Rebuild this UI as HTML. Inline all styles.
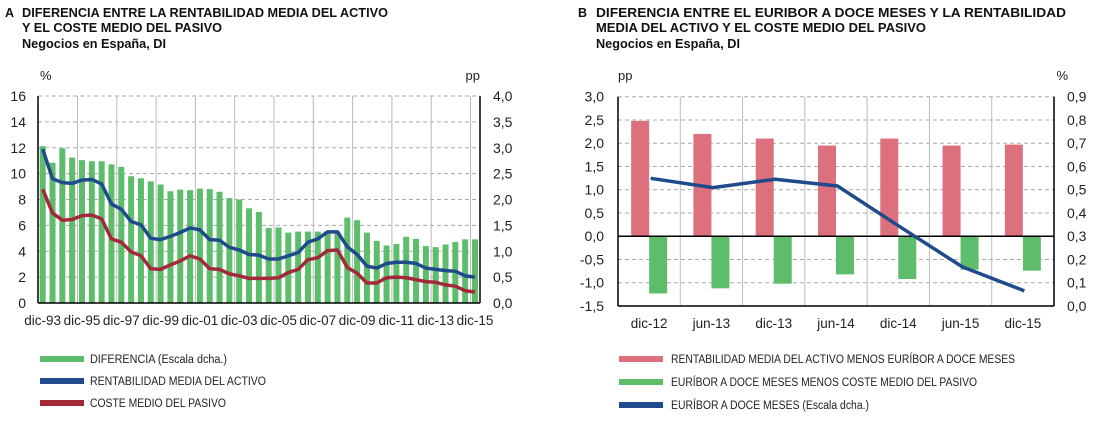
<!DOCTYPE html>
<html><head><meta charset="utf-8">
<style>
html,body{margin:0;padding:0;background:#fff;}
svg{display:block;font-family:"Liberation Sans",sans-serif;}
</style></head>
<body>
<svg id="svg" width="1106" height="422" viewBox="0 0 1106 422" xmlns="http://www.w3.org/2000/svg">
<g font-size="12.5" font-weight="bold" fill="#111">
<text x="5" y="17">A</text>
<text x="22" y="17" textLength="366" lengthAdjust="spacingAndGlyphs">DIFERENCIA ENTRE LA RENTABILIDAD MEDIA DEL ACTIVO</text>
<text x="22" y="32" textLength="200" lengthAdjust="spacingAndGlyphs">Y EL COSTE MEDIO DEL PASIVO</text>
<text x="22" y="48" textLength="144" lengthAdjust="spacingAndGlyphs">Negocios en España, DI</text>
</g>
<g font-size="12.5" font-weight="bold" fill="#111">
<text x="578" y="17">B</text>
<text x="596" y="17" textLength="470" lengthAdjust="spacingAndGlyphs">DIFERENCIA ENTRE EL EURIBOR A DOCE MESES Y LA RENTABILIDAD</text>
<text x="596" y="32" textLength="330" lengthAdjust="spacingAndGlyphs">MEDIA DEL ACTIVO Y EL COSTE MEDIO DEL PASIVO</text>
<text x="596" y="48" textLength="144" lengthAdjust="spacingAndGlyphs">Negocios en España, DI</text>
</g>
<g id="chartA"></g>
<g id="chartB"></g>
<g font-size="11.5" fill="#222">
<g><rect x="40" y="356" width="44" height="6" fill="#5dbd6a"/><text x="90" y="363" textLength="137" lengthAdjust="spacingAndGlyphs">DIFERENCIA (Escala dcha.)</text></g>
<g><rect x="40" y="378" width="44" height="6" fill="#1f4a8c"/><text x="90" y="385" textLength="176" lengthAdjust="spacingAndGlyphs">RENTABILIDAD MEDIA DEL ACTIVO</text></g>
<g><rect x="40" y="400" width="44" height="6" fill="#a3283a"/><text x="90" y="407" textLength="136" lengthAdjust="spacingAndGlyphs">COSTE MEDIO DEL PASIVO</text></g>
</g>
<g font-size="11.5" fill="#222">
<g><rect x="619" y="356" width="44" height="6" fill="#dc717d"/><text x="671" y="363" textLength="344" lengthAdjust="spacingAndGlyphs">RENTABILIDAD MEDIA DEL ACTIVO MENOS EURÍBOR A DOCE MESES</text></g>
<g><rect x="619" y="379" width="44" height="6" fill="#5dbd6a"/><text x="671" y="386" textLength="306" lengthAdjust="spacingAndGlyphs">EURÍBOR A DOCE MESES MENOS COSTE MEDIO DEL PASIVO</text></g>
<g><rect x="619" y="402" width="44" height="6" fill="#1f4a8c"/><text x="671" y="409" textLength="198" lengthAdjust="spacingAndGlyphs">EURÍBOR A DOCE MESES (Escala dcha.)</text></g>
</g>
</svg>
<script>
// ---- Chart A data ----
const aLabels = ["dic-93","dic-95","dic-97","dic-99","dic-01","dic-03","dic-05","dic-07","dic-09","dic-11","dic-13","dic-15"];
const aDiferencia = [3.03,2.71,2.99,2.81,2.76,2.74,2.74,2.68,2.63,2.45,2.41,2.35,2.29,2.16,2.19,2.18,2.21,2.2,2.15,2.03,2.0,1.83,1.76,1.45,1.46,1.36,1.38,1.38,1.38,1.38,1.38,1.65,1.6,1.36,1.2,1.11,1.14,1.28,1.24,1.1,1.08,1.13,1.18,1.23,1.23];
const aActivo = [11.9,9.6,9.3,9.25,9.5,9.55,9.2,7.65,7.25,6.3,6.05,5.0,4.9,5.15,5.45,5.8,5.65,4.9,4.85,4.3,4.1,3.75,3.7,3.4,3.4,3.65,3.9,4.7,4.95,5.5,5.5,4.35,3.75,2.85,2.7,3.05,3.15,3.15,3.05,2.7,2.6,2.5,2.45,2.1,2.0];
const aCoste = [8.8,6.95,6.4,6.45,6.75,6.8,6.5,4.95,4.7,3.95,3.65,2.65,2.6,2.95,3.25,3.65,3.4,2.65,2.6,2.25,2.1,1.9,1.9,1.9,1.95,2.35,2.6,3.35,3.5,4.05,4.1,2.75,2.3,1.55,1.55,1.95,2.0,1.95,1.8,1.65,1.6,1.4,1.3,0.95,0.85];
const aLeftTicks = [0,2,4,6,8,10,12,14,16];
const aRightTicks = ["0,0","0,5","1,0","1,5","2,0","2,5","3,0","3,5","4,0"];
// ---- Chart B data ----
const bLabels = ["dic-12","jun-13","dic-13","jun-14","dic-14","jun-15","dic-15"];
const bActivoMenosEuribor = [2.48,2.2,2.1,1.95,2.1,1.95,1.97];
const bEuriborMenosCoste = [-1.23,-1.12,-1.02,-0.82,-0.92,-0.72,-0.74];
const bEuribor = [0.549,0.509,0.545,0.516,0.341,0.169,0.065];
const bLeftTicks = [3,2.5,2,1.5,1,0.5,0,-0.5,-1,-1.5];
const bRightTicks = [0.9,0.8,0.7,0.6,0.5,0.4,0.3,0.2,0.1,0];

const NS="http://www.w3.org/2000/svg";
function mk(parent,tag,attrs,txt){const e=document.createElementNS(NS,tag);for(const k in attrs)e.setAttribute(k,attrs[k]);if(txt!==undefined)e.textContent=txt;parent.appendChild(e);return e;}
const fmt=v=>v.toFixed(1).replace('.',',');

// ---------- Chart A ----------
(function(){
const g=document.getElementById('chartA');
const L=38,R=480,T=96,B=303;
const y=v=>B-(v/16)*(B-T);
const yr=v=>y(v*4);
const n=aDiferencia.length;
const x0=42.7,dx=(475-42.7)/(n-1);
const x=i=>x0+i*dx;
aLeftTicks.forEach((t,i)=>{
 if(t>0){const gl=mk(g,'line',{x1:L,x2:R,y1:y(t),y2:y(t),stroke:'#aaa','stroke-dasharray':'4,3','stroke-width':1});
 
 }
 const tl=mk(g,'text',{x:L-12,y:y(t)+5,'text-anchor':'end','font-size':14,fill:'#222'},String(t));
 
 
 const tr=mk(g,'text',{x:R+13,y:y(t)+5,'text-anchor':'start','font-size':14,fill:'#222'},aRightTicks[i]);
 
 
});
aLabels.forEach((lab,k)=>{
 const xi=x(k*4);
 if(k>0){const vl=mk(g,'line',{x1:xi-4.5,x2:xi-4.5,y1:T,y2:B,stroke:'#bbb','stroke-width':1});
 
 }
 const tx=mk(g,'text',{x:xi,y:B+22,'text-anchor':'middle','font-size':13.5,fill:'#222'},lab);
 
 
});
aDiferencia.forEach((v,i)=>{
 const r=mk(g,'rect',{x:x(i)-3,y:yr(v),width:6,height:B-yr(v),fill:'#5dbd6a'});
 
 
});
const p1=mk(g,'polyline',{points:aActivo.map((v,i)=>x(i)+','+y(v)).join(' '),fill:'none',stroke:'#1f4a8c','stroke-width':3.5,'stroke-linejoin':'round'});


const p2=mk(g,'polyline',{points:aCoste.map((v,i)=>x(i)+','+y(v)).join(' '),fill:'none',stroke:'#a3283a','stroke-width':3.5,'stroke-linejoin':'round'});


mk(g,'line',{x1:L,x2:L,y1:T,y2:B,stroke:'#000','stroke-width':1.5});
mk(g,'line',{x1:R,x2:R,y1:T,y2:B,stroke:'#000','stroke-width':1.5});
mk(g,'line',{x1:L,x2:R,y1:B,y2:B,stroke:'#000','stroke-width':1.5});
const u1=mk(g,'text',{x:40,y:80,'font-size':13,fill:'#222'},'%');


const u2=mk(g,'text',{x:480,y:80,'font-size':13,fill:'#222','text-anchor':'end'},'pp');


})();

// ---------- Chart B ----------
(function(){
const g=document.getElementById('chartB');
const L=618,R=1054,T=96.7,B=306;
const y=v=>T+(3-v)/4.5*(B-T);
const yr=v=>B-(v/0.9)*(B-T);
const n=bLabels.length,w=(R-L)/n;
const cx=i=>L+w*(i+0.5);
bLeftTicks.forEach((t,i)=>{
 if(t!==3&&t!==0){const gl=mk(g,'line',{x1:L,x2:R,y1:y(t),y2:y(t),stroke:'#aaa','stroke-dasharray':'4,3','stroke-width':1});
 
 }
 const tl=mk(g,'text',{x:L-14,y:y(t)+5,'text-anchor':'end','font-size':14,fill:'#222'},fmt(t));
 
 
});
bRightTicks.forEach(t=>{
 const tr=mk(g,'text',{x:R+13,y:yr(t)+5,'font-size':14,fill:'#222'},fmt(t));
 
 
});
mk(g,'line',{x1:L,x2:R,y1:T,y2:T,stroke:'#aaa','stroke-dasharray':'4,3'});
bLabels.forEach((lab,i)=>{
 if(i>0){const vl=mk(g,'line',{x1:L+w*i,x2:L+w*i,y1:T,y2:B,stroke:'#bbb','stroke-width':1});
 
 }
 const tx=mk(g,'text',{x:cx(i),y:B+22,'text-anchor':'middle','font-size':13.5,fill:'#222'},lab);
 
 
});
bActivoMenosEuribor.forEach((v,i)=>{
 const r=mk(g,'rect',{x:cx(i)-18,y:y(v),width:18,height:y(0)-y(v),fill:'#dc717d'});
 
 
});
bEuriborMenosCoste.forEach((v,i)=>{
 const r=mk(g,'rect',{x:cx(i),y:y(0),width:18,height:y(v)-y(0),fill:'#5dbd6a'});
 
 
});
mk(g,'line',{x1:L,x2:R,y1:y(0),y2:y(0),stroke:'#000','stroke-width':1.5});
const p=mk(g,'polyline',{points:bEuribor.map((v,i)=>(cx(i)+1.5)+','+yr(v)).join(' '),fill:'none',stroke:'#1f4a8c','stroke-width':3.5,'stroke-linejoin':'round'});


mk(g,'line',{x1:L,x2:L,y1:T,y2:B,stroke:'#000','stroke-width':1.5});
mk(g,'line',{x1:R,x2:R,y1:T,y2:B,stroke:'#000','stroke-width':1.5});
mk(g,'line',{x1:L,x2:R,y1:B,y2:B,stroke:'#000','stroke-width':1.5});
const u1=mk(g,'text',{x:618,y:80,'font-size':13,fill:'#222'},'pp');


const u2=mk(g,'text',{x:1068,y:80,'font-size':13,fill:'#222','text-anchor':'end'},'%');


})();
</script>
</body></html>
